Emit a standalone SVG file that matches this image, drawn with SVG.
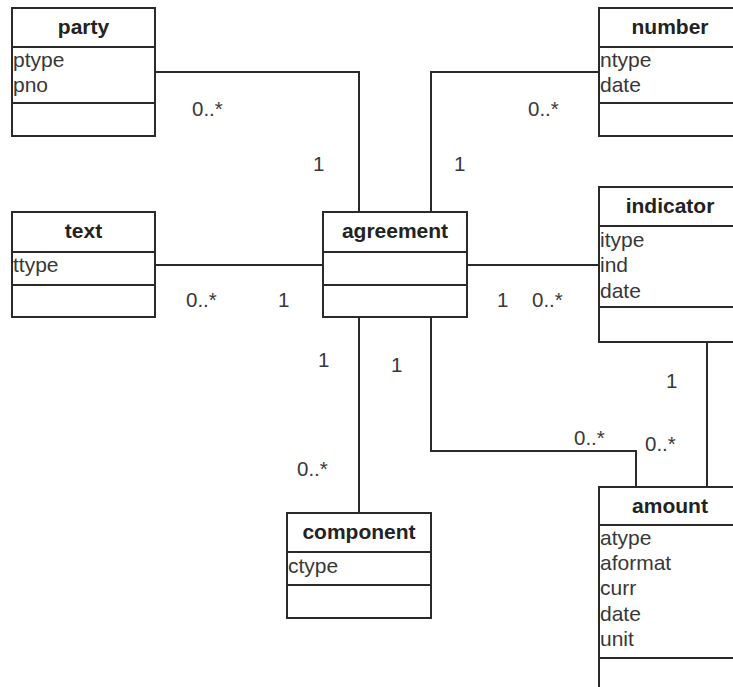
<svg xmlns="http://www.w3.org/2000/svg" width="733" height="687" viewBox="0 0 733 687">
<style>
.box{fill:#fff;stroke:#2a2a2a;stroke-width:2}
.sep{stroke:#2a2a2a;stroke-width:2}
.hd{font-family:"Liberation Sans",Arial,sans-serif;font-size:21px;font-weight:bold;fill:#222;text-anchor:middle}
.at{font-family:"Liberation Sans",Arial,sans-serif;font-size:21px;fill:#383838}
.lb{font-family:"Liberation Sans",Arial,sans-serif;font-size:20.5px;fill:#383838}
.cn{fill:none;stroke:#2a2a2a;stroke-width:2}
</style>
<rect width="733" height="687" fill="#fff"/>
<g id="connectors">
<polyline class="cn" points="155,72 359,72 359,212"/>
<polyline class="cn" points="599,72 431,72 431,212"/>
<line class="cn" x1="155" y1="265" x2="323" y2="265"/>
<line class="cn" x1="467" y1="265" x2="599" y2="265"/>
<line class="cn" x1="359" y1="317" x2="359" y2="513"/>
<polyline class="cn" points="431,317 431,451 636,451 636,487"/>
<line class="cn" x1="707" y1="342" x2="707" y2="487"/>
</g>
<g id="labels">
<text class="lb" x="192" y="116">0..*</text>
<text class="lb" x="313" y="171">1</text>
<text class="lb" x="528" y="116">0..*</text>
<text class="lb" x="454" y="171">1</text>
<text class="lb" x="186" y="307">0..*</text>
<text class="lb" x="278" y="307">1</text>
<text class="lb" x="497" y="307">1</text>
<text class="lb" x="532" y="307">0..*</text>
<text class="lb" x="318" y="367">1</text>
<text class="lb" x="391" y="372">1</text>
<text class="lb" x="297" y="476">0..*</text>
<text class="lb" x="574" y="445">0..*</text>
<text class="lb" x="645" y="451">0..*</text>
<text class="lb" x="666" y="388">1</text>
</g>
<g id="party">
<rect class="box" x="12" y="8" width="143" height="128"/>
<line class="sep" x1="12" y1="47" x2="155" y2="47"/>
<line class="sep" x1="12" y1="103" x2="155" y2="103"/>
<text class="hd" x="83.5" y="34">party</text>
<text class="at" x="13" y="67">ptype</text>
<text class="at" x="13" y="92">pno</text>
</g>
<g id="number">
<rect class="box" x="599" y="8" width="143" height="128"/>
<line class="sep" x1="599" y1="47" x2="742" y2="47"/>
<line class="sep" x1="599" y1="103" x2="742" y2="103"/>
<text class="hd" x="670" y="34">number</text>
<text class="at" x="600" y="67">ntype</text>
<text class="at" x="600" y="92">date</text>
</g>
<g id="text">
<rect class="box" x="12" y="212" width="143" height="105"/>
<line class="sep" x1="12" y1="252" x2="155" y2="252"/>
<line class="sep" x1="12" y1="285" x2="155" y2="285"/>
<text class="hd" x="83.5" y="238">text</text>
<text class="at" x="13" y="272">ttype</text>
</g>
<g id="agreement">
<rect class="box" x="323" y="212" width="144" height="105"/>
<line class="sep" x1="323" y1="252" x2="467" y2="252"/>
<line class="sep" x1="323" y1="285" x2="467" y2="285"/>
<text class="hd" x="395" y="238">agreement</text>
</g>
<g id="indicator">
<rect class="box" x="599" y="187" width="143" height="155"/>
<line class="sep" x1="599" y1="226" x2="742" y2="226"/>
<line class="sep" x1="599" y1="307" x2="742" y2="307"/>
<text class="hd" x="670" y="213">indicator</text>
<text class="at" x="600" y="247">itype</text>
<text class="at" x="600" y="272">ind</text>
<text class="at" x="600" y="298">date</text>
</g>
<g id="component">
<rect class="box" x="287" y="513" width="144" height="105"/>
<line class="sep" x1="287" y1="552" x2="431" y2="552"/>
<line class="sep" x1="287" y1="585" x2="431" y2="585"/>
<text class="hd" x="359" y="539">component</text>
<text class="at" x="288" y="573">ctype</text>
</g>
<g id="amount">
<rect class="box" x="599" y="487" width="143" height="220"/>
<line class="sep" x1="599" y1="525" x2="742" y2="525"/>
<line class="sep" x1="599" y1="658" x2="742" y2="658"/>
<text class="hd" x="670" y="513">amount</text>
<text class="at" x="600" y="545">atype</text>
<text class="at" x="600" y="570">aformat</text>
<text class="at" x="600" y="595">curr</text>
<text class="at" x="600" y="621">date</text>
<text class="at" x="600" y="646">unit</text>
</g>
</svg>
